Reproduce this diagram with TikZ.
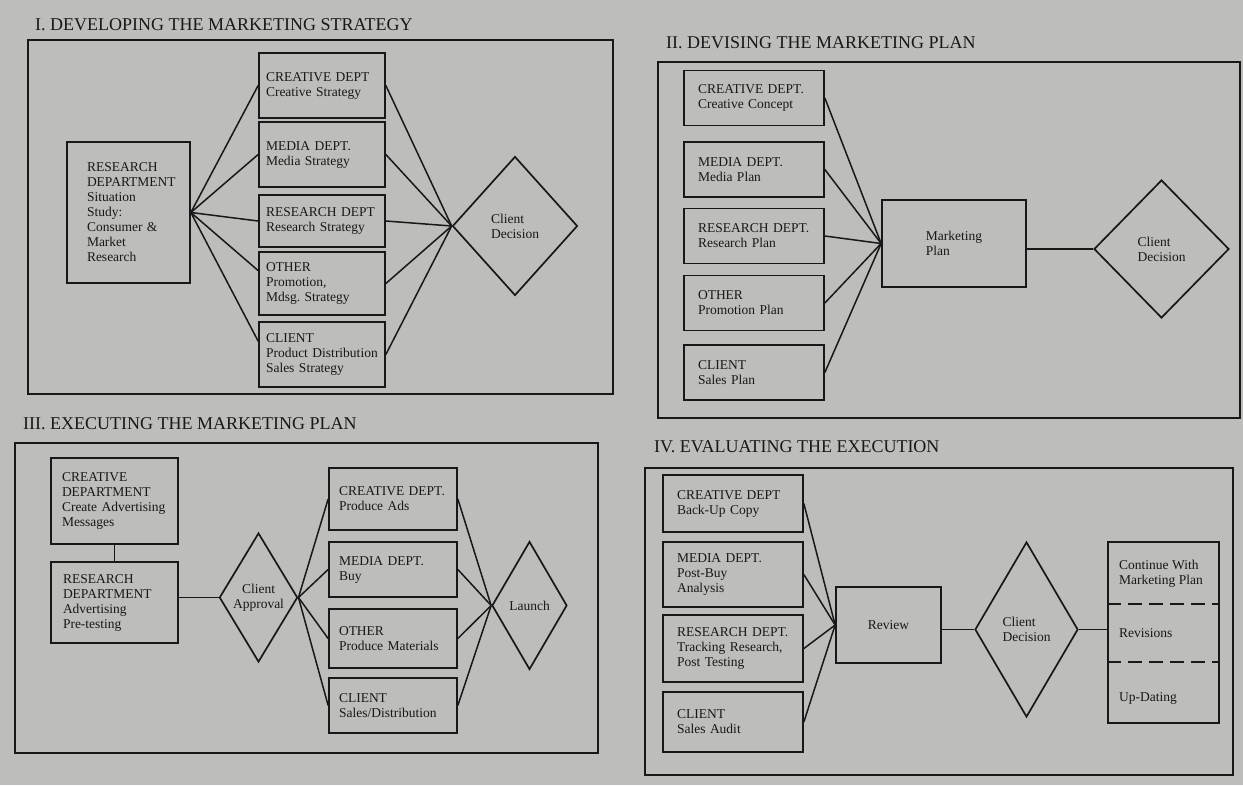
\documentclass[tikz,border=0pt]{standalone}
\usepackage{fontspec}
\setmainfont{Liberation Serif}
\usetikzlibrary{shapes.geometric,calc}
\definecolor{paper}{RGB}{189,189,187}
\definecolor{ink}{RGB}{24,24,24}
\begin{document}
\frenchspacing
\begin{tikzpicture}[x=1pt,y=-1pt,
  every node/.style={text=ink},
  bodyfont/.style={font=\fontsize{13.5}{15}\selectfont},
  box/.style={draw=ink, line width=1.7pt, align=left, inner xsep=0pt, inner ysep=0pt, bodyfont},
  dia/.style={diamond, draw=ink, line width=1.7pt, inner sep=0pt, align=left, bodyfont},
  conn/.style={draw=ink, line width=1.5pt},
  panelframe/.style={draw=ink, line width=1.7pt},
  ttl/.style={anchor=west, inner sep=0pt, font=\fontsize{18}{20}\selectfont},
  lbl/.style={inner sep=0pt, align=left, bodyfont},
  mone/.style={box, minimum width=126pt, text width=112pt},
  mtwo/.style={box, minimum width=140pt, minimum height=55pt, text width=112pt},
  mthree/.style={box, minimum width=128pt, text width=108pt},
  mfour/.style={box, minimum width=140pt, text width=112pt},
  dashsep/.style={draw=ink, line width=1.5pt, dash pattern=on 14pt off 7pt}
]
\fill[paper] (0,0) rectangle (1243,785);
\useasboundingbox (0,0) rectangle (1243,785);

% ---------------- Panel I ----------------
\node[ttl] (t1) at (35,25) {I. DEVELOPING THE MARKETING STRATEGY};
\draw[panelframe] (28,40) rectangle (613,394);
\node[box, minimum width=123pt, minimum height=141pt, text width=83pt] (rd1) at (128.5,212.5)
  {RESEARCH\\DEPARTMENT\\Situation\\Study:\\Consumer \&\\Market\\Research};
\node[mone, minimum height=65pt] (cr1) at (322,85.5) {CREATIVE DEPT\\Creative Strategy};
\node[mone, minimum height=65pt] (me1) at (322,154.5) {MEDIA DEPT.\\Media Strategy};
\node[mone, minimum height=52pt] (re1) at (322,221) {RESEARCH DEPT\\Research Strategy};
\node[mone, minimum height=63pt] (ot1) at (322,283.5) {OTHER\\Promotion,\\Mdsg. Strategy};
\node[mone, minimum height=65pt] (cl1) at (322,354.5) {CLIENT\\Product Distribution\\Sales Strategy};
\node[dia, minimum width=125pt, minimum height=139pt] (cd1) at (515,226) {Client\\Decision};
\foreach \n in {cr1,me1,re1} \draw[conn] (rd1.east) -- (\n.west);
\foreach \n in {ot1,cl1} \draw[conn] (rd1.east) -- ($(\n.north west)!0.3!(\n.south west)$);
\foreach \n in {cr1,me1,re1,ot1,cl1} \draw[conn] (\n.east) -- (cd1.west);

% ---------------- Panel II ----------------
\node[ttl] (t2) at (666,43) {II. DEVISING THE MARKETING PLAN};
\draw[panelframe] (658,62) rectangle (1240,418);
\node[mtwo] (cr2) at (754,98) {CREATIVE DEPT.\\Creative Concept};
\node[mtwo] (me2) at (754,169.5) {MEDIA DEPT.\\Media Plan};
\node[mtwo] (re2) at (754,236) {RESEARCH DEPT.\\Research Plan};
\node[mtwo] (ot2) at (754,303) {OTHER\\Promotion Plan};
\node[mtwo] (cl2) at (754,372.5) {CLIENT\\Sales Plan};
\node[box, minimum width=144pt, minimum height=87pt] (mp) at (954,243.5) {Marketing\\Plan};
\node[dia, minimum width=135pt, minimum height=138pt] (cd2) at (1161.5,249) {Client\\Decision};
\foreach \n in {cr2,me2,re2,ot2,cl2} \draw[conn] (\n.east) -- (mp.west);
\draw[conn] (cd2.west -| mp.east) -- (cd2.west);

% ---------------- Panel III ----------------
\node[ttl] (t3) at (23,424) {III. EXECUTING THE MARKETING PLAN};
\draw[panelframe] (15,443) rectangle (598,753);
\node[box, minimum width=127pt, minimum height=86pt, text width=105pt] (cdp) at (114.5,501)
  {CREATIVE\\DEPARTMENT\\Create Advertising\\Messages};
\node[box, minimum width=127pt, minimum height=81pt, text width=103pt] (rdp) at (114.5,602.5)
  {RESEARCH\\DEPARTMENT\\Advertising\\Pre-testing};
\node[dia, align=center, minimum width=75pt, minimum height=129pt] (ca) at (258.5,597.5) {Client\\Approval};
\node[mthree, minimum height=62pt] (cr3) at (393,499) {CREATIVE DEPT.\\Produce Ads};
\node[mthree, minimum height=55pt] (me3) at (393,569.5) {MEDIA DEPT.\\Buy};
\node[mthree, minimum height=59pt] (ot3) at (393,638.5) {OTHER\\Produce Materials};
\node[mthree, minimum height=55pt] (cl3) at (393,705.5) {CLIENT\\Sales/Distribution};
\node[dia, minimum width=75pt, minimum height=128pt] (la) at (529.5,605.5) {Launch};
\draw[conn] (cdp.south) -- (rdp.north);
\draw[conn] (ca.west -| rdp.east) -- (ca.west);
\foreach \n in {cr3,me3,ot3,cl3} {
  \draw[conn] (ca.east) -- (\n.west);
  \draw[conn] (\n.east) -- (la.west);
}

% ---------------- Panel IV ----------------
\node[ttl] (t4) at (654,447) {IV. EVALUATING THE EXECUTION};
\draw[panelframe] (645,468) rectangle (1233,775);
\node[mfour, minimum height=57pt] (cr4) at (733,503.5) {CREATIVE DEPT\\Back-Up Copy};
\node[mfour, minimum height=65pt] (me4) at (733,574.5) {MEDIA DEPT.\\Post-Buy\\Analysis};
\node[mfour, minimum height=67pt] (re4) at (733,648.5) {RESEARCH DEPT.\\Tracking Research,\\Post Testing};
\node[mfour, minimum height=60pt] (cl4) at (733,722) {CLIENT\\Sales Audit};
\node[box, minimum width=105pt, minimum height=76pt] (rv) at (888.5,625) {Review};
\node[dia, minimum width=103pt, minimum height=175pt] (dv) at (1026.5,629.5) {Client\\Decision};
\node[box, minimum width=111pt, minimum height=181pt] (rb) at (1163.5,632.5) {};
\coordinate (d1a) at ($(rb.north west)+(0,63)$);
\coordinate (d1b) at ($(rb.north east)+(0,63)$);
\coordinate (d2a) at ($(rb.north west)+(0,121)$);
\coordinate (d2b) at ($(rb.north east)+(0,121)$);
\draw[dashsep] (d1a) -- (d1b);
\draw[dashsep] (d2a) -- (d2b);
\node[lbl, anchor=west] (rt1) at (1119,574) {Continue With\\Marketing Plan};
\node[lbl, anchor=west] (rt2) at (1119,633) {Revisions};
\node[lbl, anchor=west] (rt3) at (1119,698) {Up-Dating};
\foreach \n in {cr4,me4,re4,cl4} \draw[conn] (\n.east) -- (rv.west);
\draw[conn] (dv.west -| rv.east) -- (dv.west);
\draw[conn] (dv.east) -- (dv.east -| rb.west);
\end{tikzpicture}
\end{document}
